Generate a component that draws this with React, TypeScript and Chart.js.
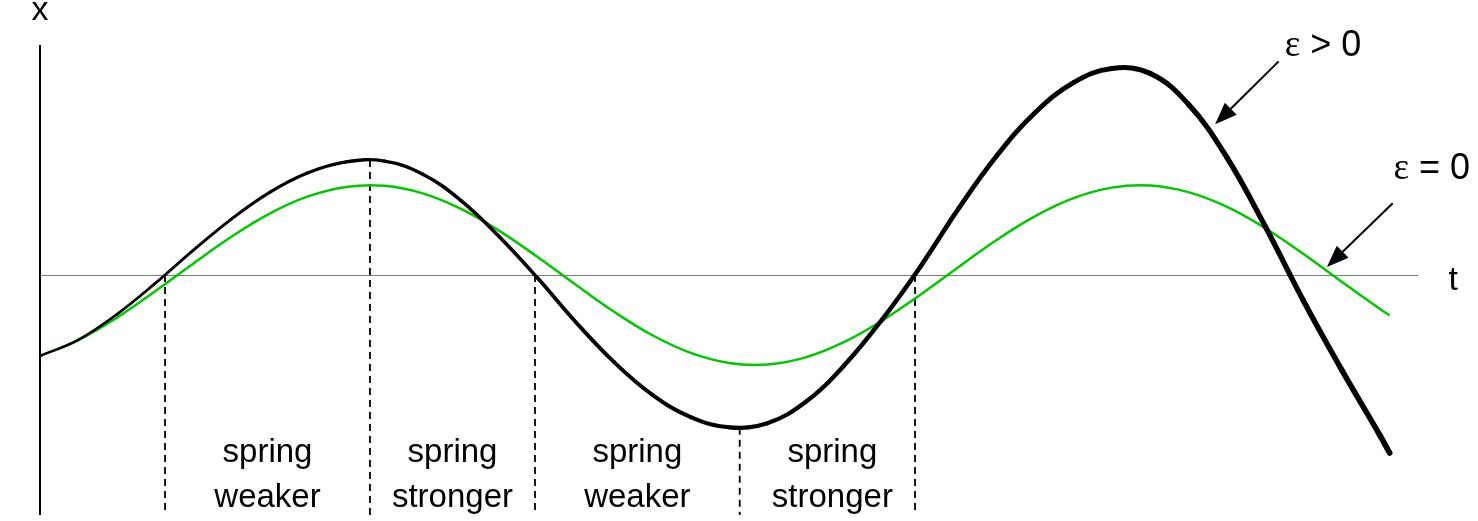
import React, { useEffect, useRef } from "react";
import { Chart, registerables } from "chart.js";
Chart.register(...registerables);

// time samples and displacement of the growing oscillation (epsilon > 0)
const T_BLACK = [0, 0.5, 1, 1.5, 2, 2.5, 3, 3.5, 4, 4.5, 5, 5.5, 6, 6.5, 7, 7.5, 8, 8.5, 9, 9.5, 10, 10.5, 11, 11.5, 12, 12.5, 13, 13.5, 14, 14.5, 15, 15.5, 16, 16.5, 17, 17.5, 17.63];
const X_BLACK = [-0.9, -0.721, -0.439, -0.096, 0.274, 0.623, 0.92, 1.138, 1.259, 1.268, 1.122, 0.828, 0.426, -0.034, -0.525, -0.97, -1.333, -1.581, -1.694, -1.648, -1.413, -1.01, -0.495, 0.093, 0.742, 1.33, 1.809, 2.142, 2.299, 2.244, 1.902, 1.314, 0.549, -0.28, -1.05, -1.78, -1.98];

// time samples and displacement of the plain oscillation (epsilon = 0)
const T_GREEN = [0, 0.5, 1, 1.5, 2, 2.5, 3, 3.5, 4, 4.5, 5, 5.5, 6, 6.5, 7, 7.5, 8, 8.5, 9, 9.5, 10, 10.5, 11, 11.5, 12, 12.5, 13, 13.5, 14, 14.5, 15, 15.5, 16, 16.5, 17, 17.5, 17.63];
const X_GREEN = [-0.901, -0.724, -0.476, -0.183, 0.127, 0.426, 0.684, 0.875, 0.981, 0.993, 0.909, 0.736, 0.492, 0.201, -0.109, -0.409, -0.67, -0.866, -0.978, -0.995, -0.916, -0.747, -0.507, -0.219, 0.09, 0.393, 0.656, 0.856, 0.973, 0.997, 0.923, 0.761, 0.524, 0.237, -0.072, -0.375, -0.449];

// dashed dividers (time, value where the divider starts)
const DIV_T = [1.633, 4.31, 6.466, 9.14, 11.43];
const DIV_TOP = [0, 1.28, 0, -1.7, 0];

// region labels between consecutive dividers
const REGION_LINE1 = ["spring", "spring", "spring", "spring"];
const REGION_LINE2 = ["weaker", "stronger", "weaker", "stronger"];

// curve labels with arrows (data coordinates)
const CURVE_LABELS = ["ε > 0", "ε = 0"];
const CURVE_LABEL_POS = [[16.26, 2.433], [17.68, 1.067]];
const ARROW_TAILS = [[16.18, 2.378], [17.67, 0.8]];
const ARROW_TIPS = [[15.35, 1.678], [16.81, 0.089]];

// axis labels
const AXIS_LABELS = ["x", "t"];
const AXIS_LABEL_POS = [[0, 2.833], [18.46, -0.167]];

const T_MIN = 0;
const T_MAX = 18;
const X_MIN = -2.67;
const X_MAX = 2.56;

const SANS = '"Liberation Sans", Arial, Helvetica, sans-serif';
const SERIF = '"Liberation Serif", "DejaVu Serif", serif';

export default function App() {
  const ref = useRef<HTMLCanvasElement>(null);

  useEffect(() => {
    const canvas = ref.current;
    if (!canvas) return;
    const tEnd = T_BLACK[T_BLACK.length - 1];

    const overlay = {
      id: "overlay",
      beforeDatasetsDraw(chart: any) {
        const { ctx, scales } = chart;
        const xs = scales.x;
        const ys = scales.y;
        ctx.save();
        ctx.strokeStyle = "#7a7a7a";
        ctx.lineWidth = 1;
        ctx.beginPath();
        const y0 = Math.round(ys.getPixelForValue(0)) + 0.5;
        ctx.moveTo(xs.getPixelForValue(T_MIN), y0);
        ctx.lineTo(xs.getPixelForValue(T_MAX), y0);
        ctx.stroke();
        ctx.strokeStyle = "#000";
        ctx.lineWidth = 2;
        ctx.beginPath();
        const x0 = xs.getPixelForValue(T_MIN);
        ctx.moveTo(x0, ys.getPixelForValue(X_MAX));
        ctx.lineTo(x0, ys.getPixelForValue(X_MIN));
        ctx.stroke();
        ctx.restore();
      },
      afterDatasetsDraw(chart: any) {
        const { ctx, scales, chartArea } = chart;
        const xs = scales.x;
        const ys = scales.y;
        ctx.save();
        ctx.fillStyle = "#000";
        ctx.font = `33px ${SANS}`;
        ctx.textAlign = "center";
        ctx.textBaseline = "alphabetic";
        for (let i = 0; i < REGION_LINE1.length; i++) {
          const cx = (xs.getPixelForValue(DIV_T[i]) + xs.getPixelForValue(DIV_T[i + 1])) / 2 + (i === 3 ? 5 : 0);
          ctx.fillText(REGION_LINE1[i], cx, chartArea.bottom - 53);
          ctx.fillText(REGION_LINE2[i], cx, chartArea.bottom - 8);
        }
        ctx.font = `34px ${SANS}`;
        for (let i = 0; i < AXIS_LABELS.length; i++) {
          ctx.fillText(AXIS_LABELS[i], xs.getPixelForValue(AXIS_LABEL_POS[i][0]), ys.getPixelForValue(AXIS_LABEL_POS[i][1]));
        }
        ctx.textAlign = "left";
        for (let i = 0; i < CURVE_LABELS.length; i++) {
          const px = xs.getPixelForValue(CURVE_LABEL_POS[i][0]);
          const py = ys.getPixelForValue(CURVE_LABEL_POS[i][1]);
          const first = CURVE_LABELS[i].slice(0, 1);
          const rest = CURVE_LABELS[i].slice(1);
          ctx.font = `37px ${SERIF}`;
          ctx.fillText(first, px, py);
          const w = ctx.measureText(first).width;
          ctx.font = `36px ${SANS}`;
          ctx.fillText(rest, px + w, py);
        }
        for (let i = 0; i < ARROW_TAILS.length; i++) {
          const ax = xs.getPixelForValue(ARROW_TAILS[i][0]);
          const ay = ys.getPixelForValue(ARROW_TAILS[i][1]);
          const bx = xs.getPixelForValue(ARROW_TIPS[i][0]);
          const by = ys.getPixelForValue(ARROW_TIPS[i][1]);
          const ang = Math.atan2(by - ay, bx - ax);
          const headLen = 22;
          const headHalf = 8.5;
          const hx = bx - headLen * Math.cos(ang);
          const hy = by - headLen * Math.sin(ang);
          ctx.strokeStyle = "#000";
          ctx.lineWidth = 2;
          ctx.beginPath();
          ctx.moveTo(ax, ay);
          ctx.lineTo(hx, hy);
          ctx.stroke();
          ctx.beginPath();
          ctx.moveTo(bx, by);
          ctx.lineTo(hx + headHalf * Math.sin(ang), hy - headHalf * Math.cos(ang));
          ctx.lineTo(hx - headHalf * Math.sin(ang), hy + headHalf * Math.cos(ang));
          ctx.closePath();
          ctx.fill();
        }
        ctx.restore();
      },
    };

    const dividerSets = DIV_T.map((t, i) => ({
      data: [
        { x: t, y: DIV_TOP[i] },
        { x: t, y: X_MIN },
      ],
      borderColor: "#000",
      borderWidth: 1.8,
      borderDash: [7, 5],
      pointRadius: 0,
      fill: false,
      tension: 0,
    }));

    const chart = new Chart(canvas, {
      type: "line",
      data: {
        datasets: [
          {
            data: T_BLACK.map((t, i) => ({ x: t, y: X_BLACK[i] })),
            borderColor: "#000",
            borderWidth: 2.6,
            borderCapStyle: "round",
            borderJoinStyle: "round",
            tension: 0.4,
            pointRadius: 0,
            fill: false,
            segment: {
              borderWidth: (c: any) => 2.6 + 3.1 * (c.p0.parsed.x / tEnd),
            },
          } as any,
          {
            data: T_GREEN.map((t, i) => ({ x: t, y: X_GREEN[i] })),
            borderColor: "#00c800",
            borderWidth: 2.5,
            tension: 0.4,
            pointRadius: 0,
            fill: false,
          },
          ...dividerSets,
        ],
      },
      options: {
        animation: false,
        responsive: false,
        devicePixelRatio: 1,
        layout: { padding: { left: 40, right: 60, top: 45, bottom: 6 } },
        plugins: { legend: { display: false }, tooltip: { enabled: false } },
        scales: {
          x: { type: "linear", min: T_MIN, max: T_MAX, display: false },
          y: { type: "linear", min: X_MIN, max: X_MAX, display: false },
        },
      },
      plugins: [overlay],
    } as any);

    return () => chart.destroy();
  }, []);

  return (
    <div style={{ position: "absolute", left: 0, top: 0, width: 1478, height: 521, background: "#fff" }}>
      <canvas ref={ref} width={1478} height={521} style={{ display: "block" }} />
    </div>
  );
}
